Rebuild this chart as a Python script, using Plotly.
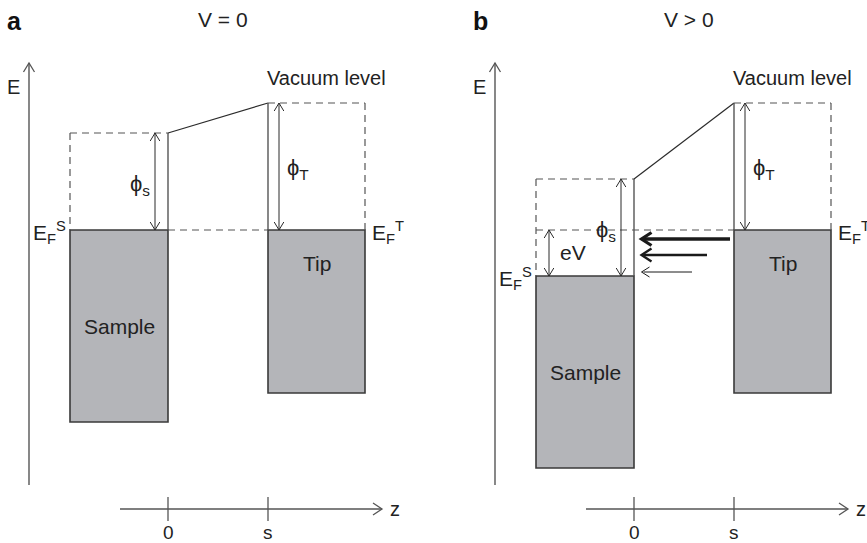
import plotly.graph_objects as go

# ---------------- data (schematic energies, arbitrary units) ----------------
panel_labels = ["a", "b"]
bias_labels = ["V = 0", "V > 0"]
bias_eV = [0.0, 4.6]            # shift of sample Fermi level below tip Fermi level
phi_sample = 9.7                # sample work function
phi_tip = 12.7                  # tip work function
sample_band_depth = [19.2, 19.2]
tip_band_depth = 16.3
sample_width = 0.98             # in units of gap s
tip_width = 0.97
z_tick_values = [0, 1]
z_tick_labels = ["0", "s"]
tunnel_arrow_energy = [-0.9, -2.5, -4.2]   # relative to tip Fermi level
tunnel_arrow_weight = [3.6, 2.6, 1.0]      # current strength (line width)
tunnel_arrow_start = [0.96, 0.73, 0.58]    # z where arrow leaves the tip side

# ---------------- layout helpers ----------------
W, H = 867, 543
PX_PER_E = 10.0
EF_TIP_Y = 230.0
PANEL_X0 = [168.0, 634.0]
PX_PER_Z = 100.0
FONT = "Liberation Sans, Arial, Helvetica, sans-serif"
DARK = "#2b2b2b"
GREY = "#555555"
FILL = "#b4b5b9"

def Y(E):
    return EF_TIP_Y - PX_PER_E * E

def X(p, z):
    return PANEL_X0[p] + PX_PER_Z * z

shapes = []
annotations = []

def line(x0, y0, x1, y1, color=DARK, width=1.2, dash=None):
    d = dict(color=color, width=width)
    if dash:
        d["dash"] = dash
    shapes.append(dict(type="line", xref="x", yref="y", x0=x0, y0=y0, x1=x1, y1=y1, line=d, layer="above"))

def chevron(tx, ty, dx, dy, L=8.0, Wd=4.8, color=DARK, width=1.1):
    n = (dx * dx + dy * dy) ** 0.5
    ux, uy = dx / n, dy / n
    nx, ny = -uy, ux
    p1 = (tx - L * ux + Wd * nx, ty - L * uy + Wd * ny)
    p2 = (tx - L * ux - Wd * nx, ty - L * uy - Wd * ny)
    path = f"M{p1[0]},{p1[1]} L{tx},{ty} L{p2[0]},{p2[1]}"
    shapes.append(dict(type="path", xref="x", yref="y", path=path,
                       line=dict(color=color, width=width), layer="above"))

def double_arrow(x, ya, yb, color=DARK, width=1.0):
    line(x, ya, x, yb, color, width)
    chevron(x, ya, 0, ya - yb, color=color, width=width)
    chevron(x, yb, 0, yb - ya, color=color, width=width)

def text(x, y, s, size=19, xanchor="center", yanchor="middle", bold=False, color="#222"):
    if bold:
        s = f"<b>{s}</b>"
    annotations.append(dict(x=x, y=y, xref="x", yref="y", text=s, showarrow=False,
                            xanchor=xanchor, yanchor=yanchor,
                            font=dict(family=FONT, size=size, color=color)))

DASH = "7px,5px"

for p in range(2):
    EFs = -bias_eV[p]
    vac_s = EFs + phi_sample
    vac_t = phi_tip
    xs0, xs1 = X(p, -sample_width), X(p, 0)
    xt0, xt1 = X(p, 1), X(p, 1 + tip_width)

    # tip Fermi level (dashed)
    line(xs0 if bias_eV[p] > 0 else xs1, Y(0), xt0, Y(0), GREY, 1.2, DASH)

    # sample box
    shapes.append(dict(type="rect", xref="x", yref="y", x0=xs0, x1=xs1,
                       y0=Y(EFs), y1=Y(EFs - sample_band_depth[p]),
                       fillcolor=FILL, line=dict(color="#3a3a3a", width=1.6), layer="below"))
    # tip box
    shapes.append(dict(type="rect", xref="x", yref="y", x0=xt0, x1=xt1,
                       y0=Y(0), y1=Y(-tip_band_depth),
                       fillcolor=FILL, line=dict(color="#3a3a3a", width=1.6), layer="below"))

    # sample vacuum region
    line(xs0, Y(vac_s), xs1, Y(vac_s), GREY, 1.2, DASH)
    line(xs0, Y(vac_s), xs0, Y(EFs), GREY, 1.2, DASH)
    line(xs1, Y(vac_s), xs1, Y(EFs), GREY, 1.4)
    # vacuum level slope
    line(xs1, Y(vac_s), xt0, Y(vac_t), DARK, 1.2)
    # tip vacuum region
    line(xt0, Y(vac_t), xt0, Y(0), GREY, 1.4)
    line(xt0, Y(vac_t), xt1, Y(vac_t), GREY, 1.2, DASH)
    line(xt1, Y(vac_t), xt1, Y(0), GREY, 1.2, DASH)

    # work function arrows
    double_arrow(X(p, -0.13), Y(vac_s), Y(EFs))
    double_arrow(X(p, 1.11), Y(vac_t), Y(0))
    text(X(p, -0.28), (Y(vac_s) + Y(EFs)) / 2 + 3, "ϕ<sub>s</sub>", 22)
    text(X(p, 1.30), (Y(vac_t) + Y(0)) / 2 + 2, "ϕ<sub>T</sub>", 22)

    if bias_eV[p] > 0:
        double_arrow(X(p, -0.85), Y(0), Y(EFs))
        text(X(p, -0.61), (Y(0) + Y(EFs)) / 2 - 1, "eV", 21)
        for E, w, zs in zip(tunnel_arrow_energy, tunnel_arrow_weight, tunnel_arrow_start):
            xe = X(p, 0.075)
            line(X(p, zs), Y(E), xe + 2, Y(E), "#1a1a1a", w)
            chevron(xe, Y(E), -1, 0, L=10 if w > 1.5 else 8, Wd=6.5 if w > 1.5 else 5,
                    color="#1a1a1a", width=w * 0.9 if w > 1.5 else 1.0)

    # labels
    text(X(p, -sample_width / 2), Y(EFs - 9.6), "Sample", 21)
    text(X(p, 1 + tip_width / 2), Y(-3.3), "Tip", 21)
    text(X(p, 1.58), 78, "Vacuum level", 20)
    text(xs0 - 2, Y(EFs) + 2, "E<sub>F</sub><sup>S</sup>", 21, xanchor="right")
    text(xt1 + 5, Y(0) + 2, "E<sub>F</sub><sup>T</sup>", 21, xanchor="left")

    # energy axis
    ex = X(p, -1.39)
    line(ex, 485, ex, 63, GREY, 1.4)
    chevron(ex, 63, 0, -1, L=9, Wd=5.5, color=GREY, width=1.3)
    text(ex - 16, 87, "E", 20)

    # z axis
    zy = 509
    za, zb = X(p, -0.48), X(p, 2.14)
    line(za, zy, zb, zy, GREY, 1.4)
    chevron(zb, zy, 1, 0, L=9, Wd=6, color=GREY, width=1.3)
    text(zb + 13, zy, "z", 20)
    for zv, zl in zip(z_tick_values, z_tick_labels):
        line(X(p, zv), 497, X(p, zv), 521, GREY, 1.3)
        text(X(p, zv), 532, zl, 19)

    # panel titles
    text(ex - 15, 21, panel_labels[p], 25, bold=True, color="#111")
    text(X(p, 0.55), 19, bias_labels[p], 21)

fig = go.Figure()
fig.add_trace(go.Scatter(x=[0, W], y=[0, H], mode="markers", marker=dict(opacity=0),
                         hoverinfo="skip", showlegend=False))
fig.update_layout(
    width=W, height=H,
    margin=dict(l=0, r=0, t=0, b=0),
    paper_bgcolor="white", plot_bgcolor="white",
    xaxis=dict(range=[0, W], visible=False, fixedrange=True),
    yaxis=dict(range=[H, 0], visible=False, fixedrange=True),
    shapes=shapes, annotations=annotations, showlegend=False,
)
fig.write_html("out.html", config={"displayModeBar": False},
               post_script="document.body.style.margin='0';document.body.style.overflow='hidden';")
